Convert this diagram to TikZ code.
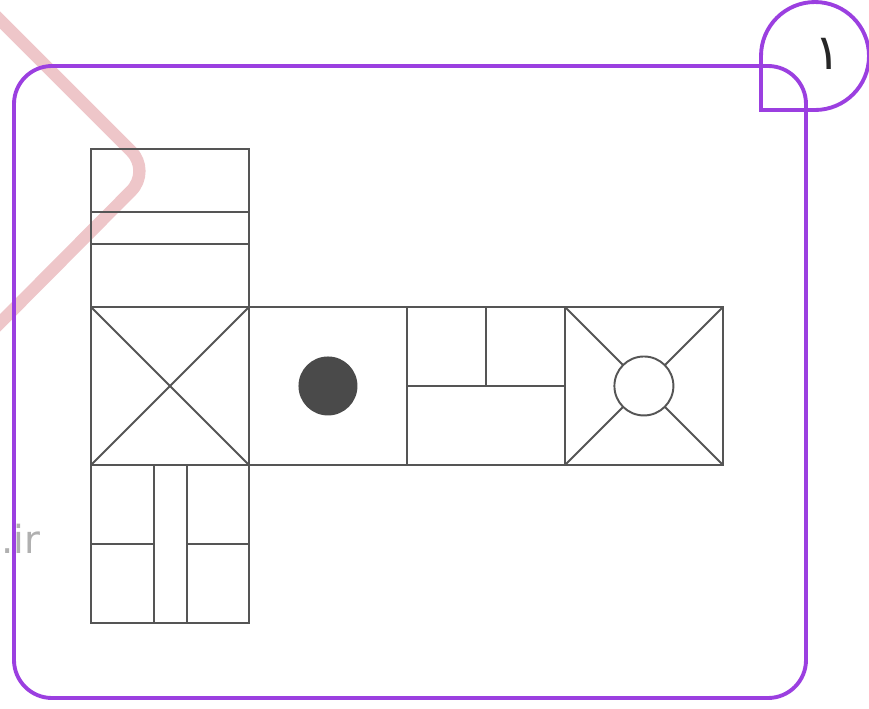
\documentclass[tikz,border=0pt]{standalone}
\usepackage{fontspec}
\setsansfont{DejaVu Sans}
\newfontfamily\arabicfont[Script=Arabic]{DejaVu Sans}
\TeXXeTstate=1
\usepackage{tikz}
\usetikzlibrary{positioning, calc}
\definecolor{Frame}{HTML}{9B3FE0}
\definecolor{Ink}{HTML}{555555}
\definecolor{Dot}{HTML}{4A4A4A}
\definecolor{Mark}{HTML}{EEC6C9}
\definecolor{Faint}{HTML}{B0B0B0}

\begin{document}
\begin{tikzpicture}[
  x=0.02cm, y=0.02cm,
  frame/.style={draw=Frame, line width=2.2pt},
  face/.style={rectangle, draw=Ink, line width=1.1pt, minimum size=3.16cm, inner sep=0pt, outer sep=0pt},
  crease/.style={draw=Ink, line width=1.1pt},
  spot/.style={circle, minimum size=1.18cm, inner sep=0pt, outer sep=0pt, line width=1.1pt}
]
\useasboundingbox[fill=white] (0,0) rectangle (869,708);

% watermark
\draw[Mark, line width=7pt, rounded corners=0.56cm] (-10,698) -- (151,537) -- (-10,375);
\node[text=Faint, font=\sffamily\fontsize{22}{26}\selectfont, anchor=base west, inner sep=0pt] (site) at (1,155) {.ir};

% frame and badge
\draw[frame, rounded corners=0.76cm] (14,10) rectangle (806,642);
\draw[frame] (761,598) -- (815,598) arc[start angle=-90, end angle=180, radius=1.08cm] -- cycle;
\node[font=\arabicfont\fontsize{28}{32}\selectfont, text=black!85] (num) at (828,654) {\beginR ۱\endR};

% faces of the net
\node[face] (top) at (170,480) {};
\node[face, below=0pt of top] (cross) {};
\node[face, right=0pt of cross] (dotface) {};
\node[face, right=0pt of dotface] (split) {};
\node[face, right=0pt of split] (hole) {};
\node[face, below=0pt of cross] (base) {};

% top face
\draw[crease] ($(top.north west)!0.4!(top.south west)$) -- ($(top.north east)!0.4!(top.south east)$);
\draw[crease] ($(top.north west)!0.6!(top.south west)$) -- ($(top.north east)!0.6!(top.south east)$);

% crossed face
\draw[crease] (cross.north west) -- (cross.south east);
\draw[crease] (cross.north east) -- (cross.south west);

% dot face
\node[spot, fill=Dot] (dot) at (dotface) {};

% split face
\draw[crease] (split.west) -- (split.east);
\draw[crease] (split.north) -- (split.center);

% face with hole
\node[spot, draw=Ink, fill=white] (ring) at (hole) {};
\draw[crease] (hole.north west) -- (ring.north west);
\draw[crease] (hole.north east) -- (ring.north east);
\draw[crease] (hole.south west) -- (ring.south west);
\draw[crease] (hole.south east) -- (ring.south east);

% base face
\coordinate (b1n) at ($(base.north west)!0.4!(base.north east)$);
\coordinate (b1s) at ($(base.south west)!0.4!(base.south east)$);
\coordinate (b2n) at ($(base.north west)!0.61!(base.north east)$);
\coordinate (b2s) at ($(base.south west)!0.61!(base.south east)$);
\draw[crease] (b1n) -- (b1s);
\draw[crease] (b2n) -- (b2s);
\draw[crease] (base.west) -- (b1n |- base.west);
\draw[crease] (b2n |- base.east) -- (base.east);
\end{tikzpicture}
\end{document}
